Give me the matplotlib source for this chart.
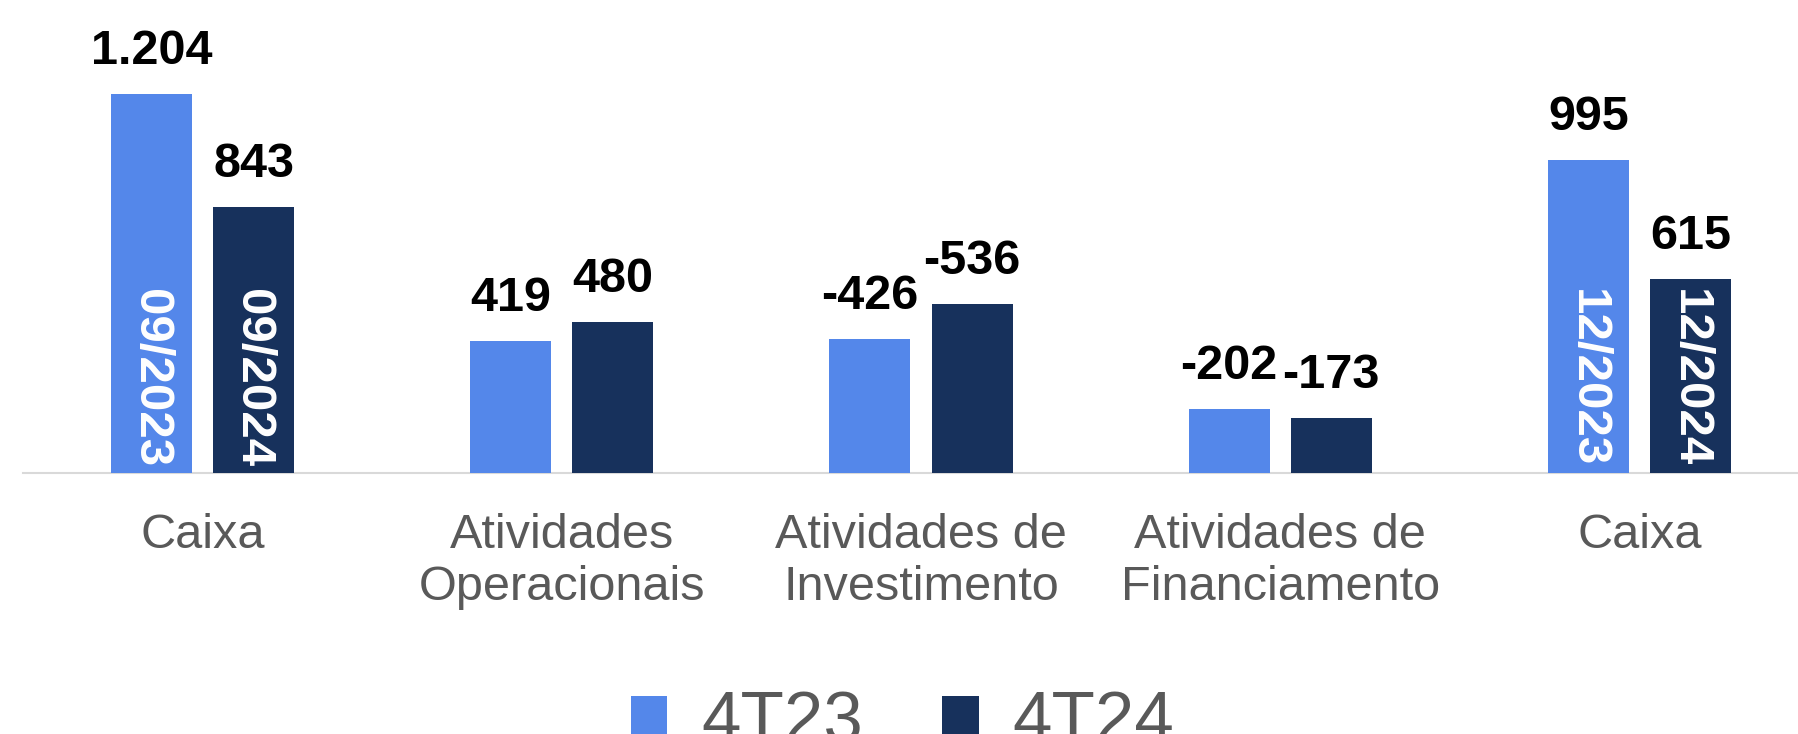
import matplotlib
matplotlib.use("Agg")
import matplotlib.pyplot as plt
import numpy as np

categories = ["Caixa", "Atividades\nOperacionais", "Atividades de\nInvestimento",
              "Atividades de\nFinanciamento", "Caixa"]
series_names = ["4T23", "4T24"]
values_4t23 = [1204, 419, -426, -202, 995]
values_4t24 = [843, 480, -536, -173, 615]
inner_4t23 = ["09/2023", "", "", "", "12/2023"]
inner_4t24 = ["09/2024", "", "", "", "12/2024"]

c_light = "#5487EA"
c_dark = "#17315C"
c_gray = "#595959"

plt.rcParams['font.family'] = ['Liberation Sans', 'DejaVu Sans']

W, H = 1799, 734
fig = plt.figure(figsize=(W / 100, H / 100), dpi=100)
base_y = 472.5
ax = fig.add_axes([23 / W, (H - base_y) / H, (W - 23) / W, base_y / H])

x = np.arange(len(categories))
bw = 0.2254
off = 0.142


def fmt(v):
    return f"{v:,}".replace(",", ".")


for vals, inner, col, sign, name in [(values_4t23, inner_4t23, c_light, -1, series_names[0]),
                                      (values_4t24, inner_4t24, c_dark, 1, series_names[1])]:
    xs = x + sign * off
    heights = np.abs(vals)
    ax.bar(xs, heights, width=bw, color=col, label=name, zorder=3)
    for xi, v, h, t in zip(xs, vals, heights, inner):
        ax.annotate(fmt(v), (xi, h), xytext=(0, 21.6), textcoords="offset points",
                    ha="center", va="baseline", fontsize=35, fontweight="bold",
                    color="black")
        if t:
            ax.annotate(t, (xi, 0), xytext=(-0.7, 3.6), textcoords="offset points",
                        ha="center", va="bottom", rotation=-90, fontsize=35.5,
                        fontweight="bold", color="white", zorder=4)

ax.set_xlim(-0.4996, (W - 202.3) / 359.3)
ax.set_ylim(0, base_y / 0.3144)
ax.set_xticks(x)
ax.set_xticklabels(categories, fontsize=35, color=c_gray)
ax.tick_params(axis="x", length=0, pad=29)
ax.set_yticks([])
for s in ["left", "right", "top"]:
    ax.spines[s].set_visible(False)
ax.spines["bottom"].set_color("#D9D9D9")
ax.spines["bottom"].set_linewidth(1.5)
ax.spines["bottom"].set_zorder(1)

handles, labels = ax.get_legend_handles_labels()
fig.legend(handles, labels, loc="upper center", bbox_to_anchor=(0.5017, (H - 655) / H),
           ncol=2, frameon=False, fontsize=51, handlelength=0.514, handleheight=0.514,
           handletextpad=0.48, columnspacing=1.12, borderpad=0, labelcolor=c_gray)

fig.savefig("out.png", dpi=100)
